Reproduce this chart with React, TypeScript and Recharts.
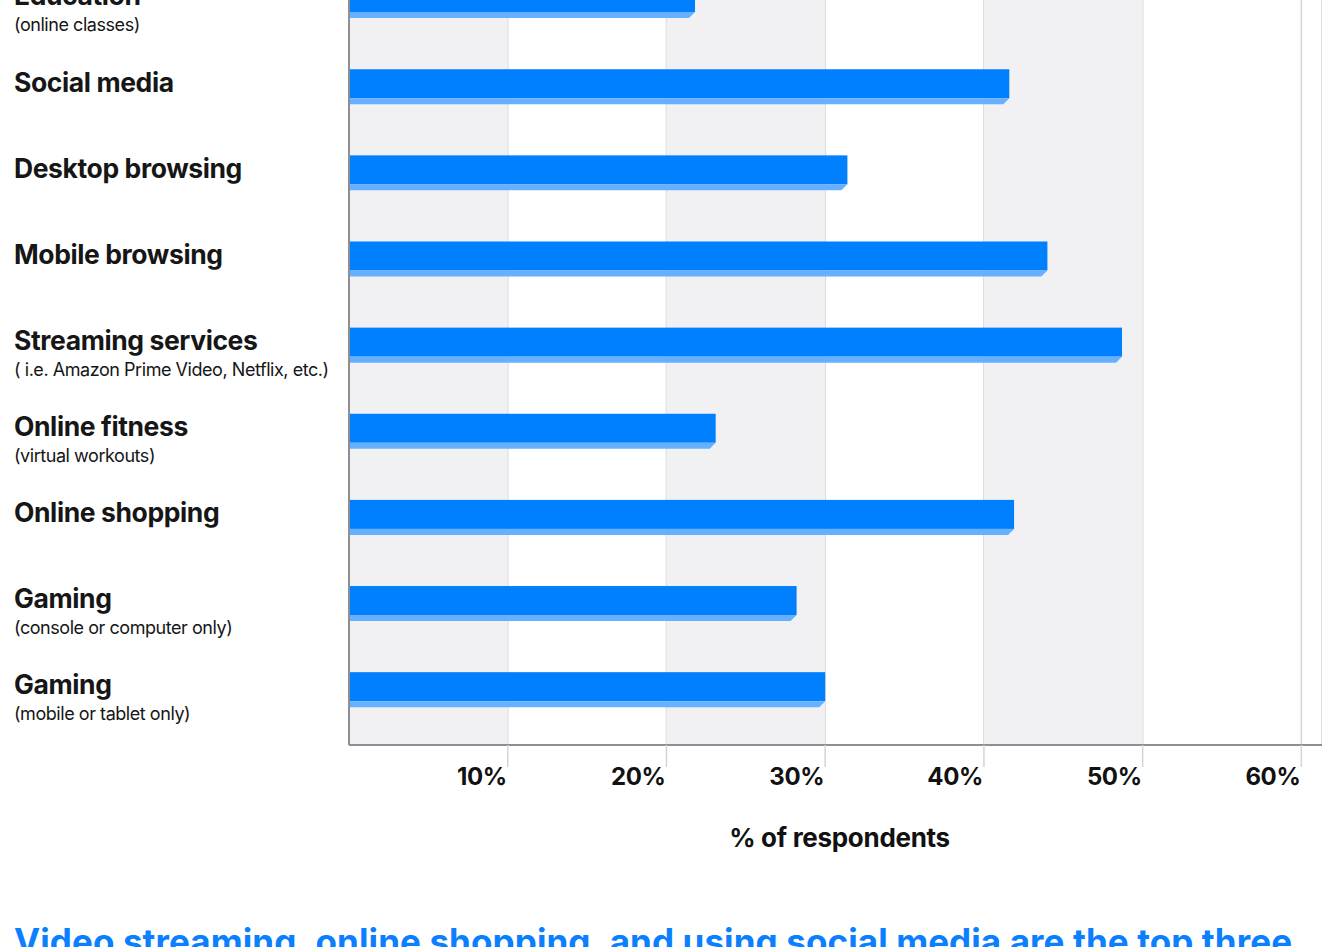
import React from 'react';
import { BarChart, Bar, XAxis, YAxis, CartesianGrid, ReferenceArea, Label } from 'recharts';

const categories = ['Education', 'Social media', 'Desktop browsing', 'Mobile browsing', 'Streaming services', 'Online fitness', 'Online shopping', 'Gaming', 'Gaming'];
const subtitles = ['(online classes)', '', '', '', '( i.e. Amazon Prime Video, Netflix, etc.)', '(virtual workouts)', '', '(console or computer only)', '(mobile or tablet only)'];
const values = [21.8, 41.6, 31.4, 44.0, 48.7, 23.1, 41.9, 28.2, 30.0];
const xTicks = [0, 10, 20, 30, 40, 50, 60];
const shadedBands = [[0, 10], [20, 30], [40, 50]];
const xAxisTitle = '% of respondents';
const headline = 'Video streaming, online shopping, and using social media are the top three';

const data = categories.map((c, i) => ({ key: `${c}-${i}`, name: c, value: values[i] }));

const FONT = 'Inter, "Noto Sans", sans-serif';
const DARK = '#0080ff';
const LIGHT = '#66b0ff';

const BarShape = (props: any) => {
  const { x, y, width, height } = props;
  const top = y - 12.7;
  const main = height - 6;
  const w = Math.max(width, 0);
  return (
    <g>
      <rect x={x} y={top} width={w} height={main} fill={DARK} />
      <polygon
        points={`${x},${top + main} ${x + w},${top + main} ${x + w - 6},${top + height} ${x},${top + height}`}
        fill={LIGHT}
      />
    </g>
  );
};

const YTick = (props: any) => {
  const { y, index } = props;
  const sub = subtitles[index];
  return (
    <g>
      <text x={14} y={y - 7.5} fontFamily={FONT} fontWeight={700} fontSize={26.5} fill="#161616" letterSpacing={-0.4}>
        {categories[index]}
      </text>
      {sub ? (
        <text x={14} y={y + 18.5} fontFamily={FONT} fontWeight={400} fontSize={18} fill="#161616" letterSpacing={-0.45}>
          {sub}
        </text>
      ) : null}
    </g>
  );
};

const XTick = (props: any) => {
  const { x, y, payload } = props;
  if (payload.value === 0) return <g />;
  const axisY = y - 24;
  return (
    <g>
      <line x1={x} x2={x} y1={axisY} y2={axisY + 22} stroke="#d4d4da" strokeWidth={1.5} />
      <text x={x - 1} y={axisY + 40} textAnchor="end" fontFamily={FONT} fontWeight={700} fontSize={24} fill="#111" letterSpacing={-0.4}>
        {`${payload.value}%`}
      </text>
    </g>
  );
};

const AxisTitle = (props: any) => {
  const { viewBox } = props;
  if (!viewBox) return null;
  return (
    <text x={viewBox.x + viewBox.width / 2 + 4} y={viewBox.y + 102} textAnchor="middle" fontFamily={FONT} fontWeight={700} fontSize={26} fill="#111" letterSpacing={-0.3}>
      {xAxisTitle}
    </text>
  );
};

export default function App() {
  return (
    <div style={{ position: 'fixed', left: 0, top: 0, width: 1322, height: 947, overflow: 'hidden', background: '#fff' }}>
      <div style={{ position: 'absolute', left: 0, top: -100 }}>
        <BarChart
          width={1322}
          height={1000}
          data={data}
          layout="vertical"
          margin={{ top: 69.8, right: 0, bottom: 0, left: 0 }}
        >
          {shadedBands.map(([a, b]) => (
            <ReferenceArea key={a} x1={a} x2={b} fill="#f1f1f4" fillOpacity={1} stroke="none" />
          ))}
          <CartesianGrid horizontal={false} vertical stroke="#d4d4da" strokeWidth={1.5} />
          <XAxis
            type="number"
            domain={[0, 61.3]}
            ticks={xTicks}
            allowDataOverflow
            height={155}
            axisLine={{ stroke: '#8e8e93', strokeWidth: 2 }}
            tickLine={false}
            tickSize={22}
            tick={<XTick />}
            interval={0}
          >
            <Label content={<AxisTitle />} />
          </XAxis>
          <YAxis
            type="category"
            dataKey="key"
            width={349}
            axisLine={{ stroke: '#8e8e93', strokeWidth: 2 }}
            tickLine={false}
            tick={<YTick />}
            interval={0}
          />
          <Bar dataKey="value" barSize={35} shape={<BarShape />} isAnimationActive={false} />
        </BarChart>
      </div>
      <div
        style={{
          position: 'absolute',
          left: 14,
          top: 920,
          fontFamily: FONT,
          fontWeight: 700,
          fontSize: 35,
          color: '#0a80ff',
          letterSpacing: 0.1,
          whiteSpace: 'nowrap',
          lineHeight: 'normal',
        }}
      >
        {headline}
      </div>
    </div>
  );
}
